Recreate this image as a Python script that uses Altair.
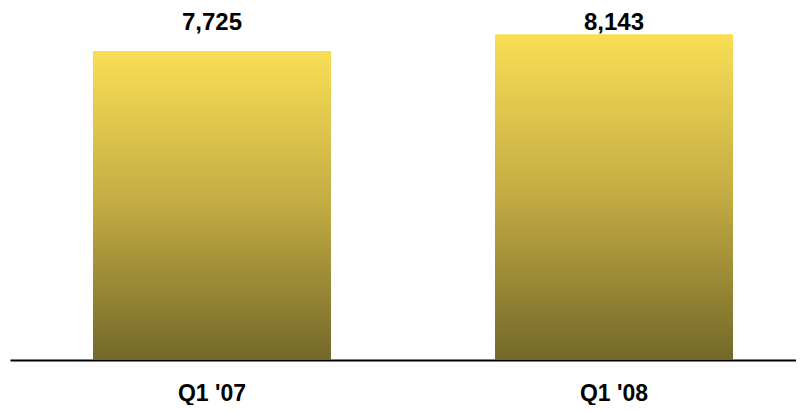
import altair as alt
import pandas as pd

categories = ["Q1 '07", "Q1 '08"]
values = [7725, 8143]
labels = ["7,725", "8,143"]

df = pd.DataFrame({"cat": categories, "value": values, "label": labels})

grad = alt.Gradient(
    gradient="linear",
    stops=[
        alt.GradientStop(color="#F9DE55", offset=0),
        alt.GradientStop(color="#C2AB43", offset=0.5),
        alt.GradientStop(color="#736829", offset=1),
    ],
    x1=0, x2=0, y1=0, y2=1,
)

x = alt.X(
    "cat:N",
    sort=categories,
    scale=alt.Scale(paddingInner=0.408, paddingOuter=0.1816, align=0.5685),
    axis=alt.Axis(
        title=None,
        labelAngle=0,
        labelFont="Liberation Sans",
        labelFontWeight="bold",
        labelFontSize=23,
        labelColor="#000000",
        labelPadding=22,
        ticks=False,
        domain=True,
        domainColor="#000000",
        domainWidth=2,
        grid=False,
    ),
)
y = alt.Y("value:Q", scale=alt.Scale(domain=[0, 8800], nice=False, zero=True), axis=None)

bars = alt.Chart(df).mark_bar(color=grad).encode(x=x, y=y)
text = alt.Chart(df).mark_text(
    baseline="top", dy=3, font="Liberation Sans", fontWeight="bold", fontSize=24, color="#000000"
).encode(x=x, y=alt.value(0), text="label:N")

chart = (
    alt.layer(bars, text)
    .properties(
        width=786,
        height=352,
        padding={"left": 2, "top": 0, "right": 0, "bottom": 0},
        view=alt.ViewBackground(stroke="transparent", strokeWidth=0),
    )
    .configure_view(stroke="transparent", strokeWidth=0)
    .configure(background="#FFFFFF")
)

chart.save("out.html", embed_options={"renderer": "svg", "actions": False})
